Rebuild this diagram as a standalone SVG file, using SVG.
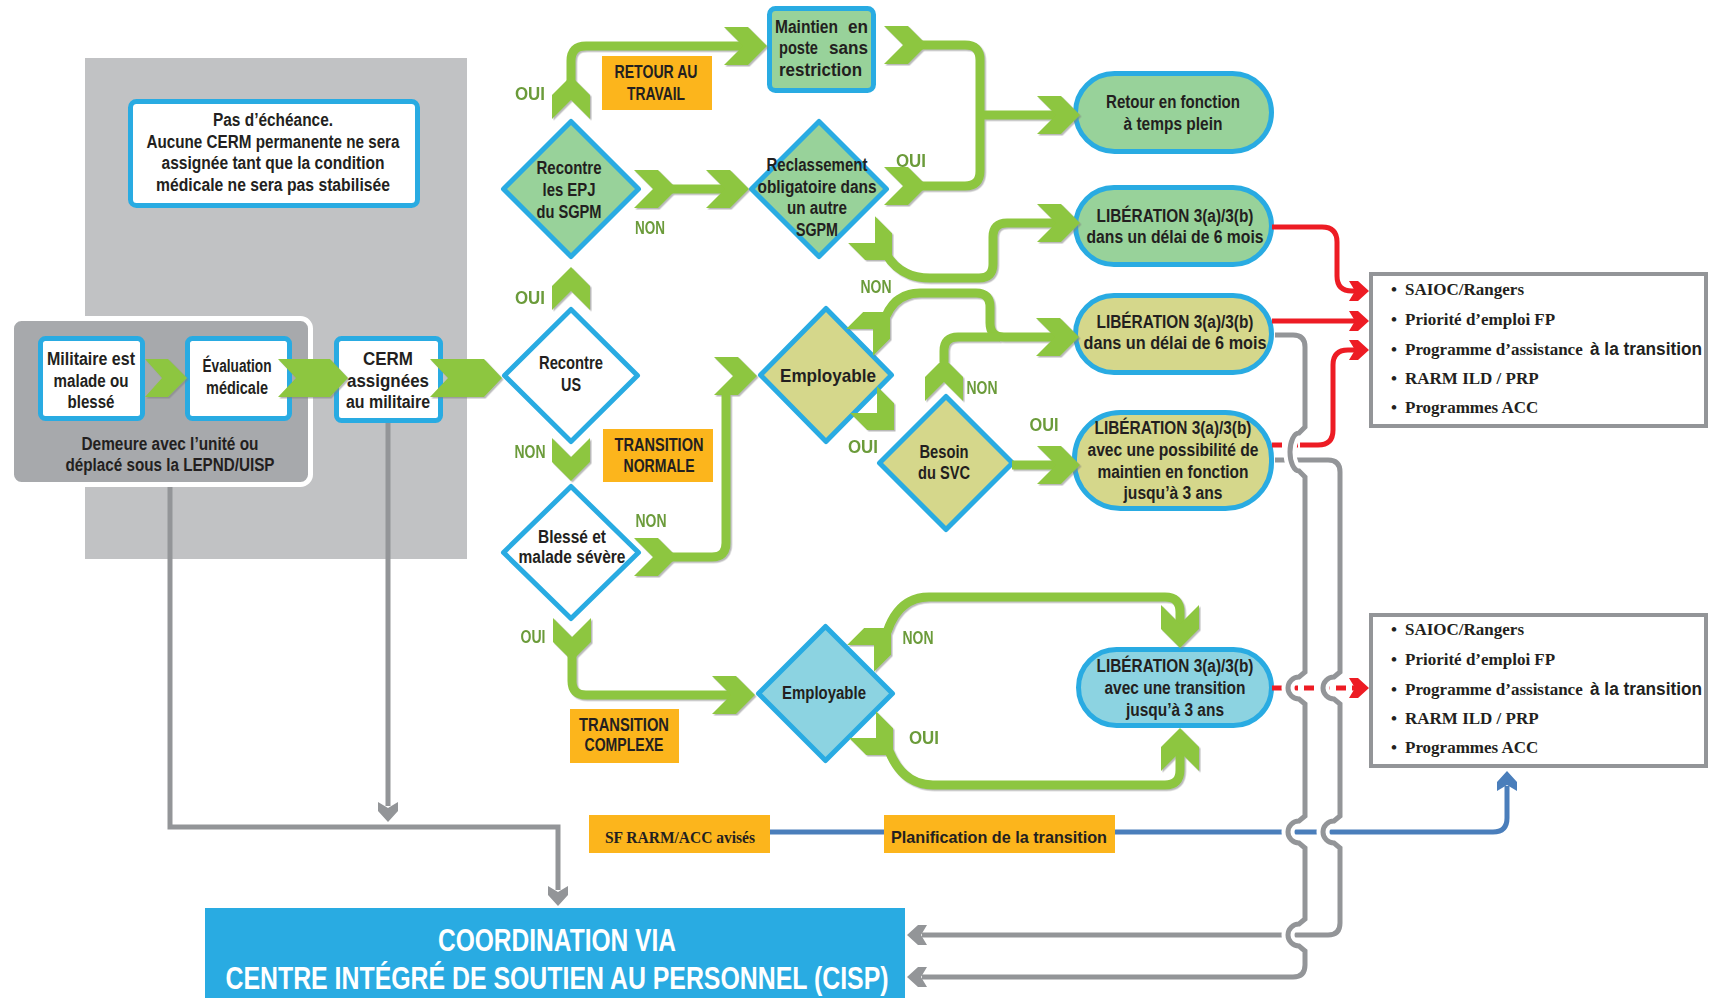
<svg xmlns="http://www.w3.org/2000/svg" width="1711" height="998" viewBox="0 0 1711 998">
<style>
.t{font-family:"Liberation Sans",Arial,sans-serif;font-weight:bold;font-size:17.5px;fill:#231f20;text-anchor:middle}
.s{text-anchor:start}
.e{text-anchor:end}
.lab{fill:#6b9b3a}
.sr{font-family:"Liberation Serif","Times New Roman",serif;font-weight:bold;font-size:17px;fill:#231f20}
.bx{fill:#fff;stroke:#29abe2;stroke-width:5}
.gf{fill:#98d29a;stroke:#29abe2;stroke-width:5;stroke-linejoin:round}
.yf{fill:#d5d78b;stroke:#29abe2;stroke-width:5;stroke-linejoin:round}
.bf{fill:#8cd3e1;stroke:#29abe2;stroke-width:5;stroke-linejoin:round}
.wf{fill:#fff;stroke:#29abe2;stroke-width:5;stroke-linejoin:round}
.or{fill:#fcb51c}
.gl{fill:none;stroke:#8dc63f;stroke-width:9;stroke-linejoin:round}
.gc{fill:#8dc63f}
.gr{fill:none;stroke:#939598;stroke-width:5}
.grf{fill:#939598}
.halo{fill:none;stroke:#fff;stroke-width:13}
.rd{fill:none;stroke:#ed1c24;stroke-width:5}
.rdf{fill:#ed1c24}
.bl{fill:none;stroke:#4a7ebb;stroke-width:5}
.blf{fill:#4a7ebb}
.lst{fill:#fff;stroke:#939598;stroke-width:4}
.cisp{font-family:"Liberation Sans",Arial,sans-serif;font-weight:bold;font-size:31px;fill:#fff;text-anchor:middle}
</style>
<defs>
<path id="cv" d="M0,0 L-19,-19 L-43,-19 L-24,0 L-43,19 L-19,19 Z"/>
<path id="ah" d="M0,0 L-11,-10 L-20,-10 L-14,0 L-20,10 L-11,10 Z"/>
<filter id="sh" x="-5%" y="-5%" width="110%" height="110%">
<feDropShadow dx="1.5" dy="1.5" stdDeviation="0.6" flood-color="#808080" flood-opacity="0.55"/>
</filter>
</defs>
<rect width="1711" height="998" fill="#fff"/>

<g id="panel-fond">
<rect x="85" y="58" width="382" height="501" fill="#c1c2c4"/>
</g>

<g id="n-echeance">
<rect class="bx" x="130.5" y="101.5" width="287" height="104" rx="6"/>
<text class="t" x="273" y="126" textLength="120" lengthAdjust="spacingAndGlyphs">Pas d’échéance.</text>
<text class="t" x="273" y="148" textLength="253" lengthAdjust="spacingAndGlyphs">Aucune CERM permanente ne sera</text>
<text class="t" x="273" y="169" textLength="223" lengthAdjust="spacingAndGlyphs">assignée tant que la condition</text>
<text class="t" x="273" y="191" textLength="234" lengthAdjust="spacingAndGlyphs">médicale ne sera pas stabilisée</text>
</g>

<g id="n-unite">
<rect x="11.5" y="318.5" width="299" height="166" rx="10" fill="#a7a9ac" stroke="#fff" stroke-width="5"/>
<text class="t" x="170" y="450" textLength="177" lengthAdjust="spacingAndGlyphs">Demeure avec  l’unité  ou</text>
<text class="t" x="170" y="471" textLength="209" lengthAdjust="spacingAndGlyphs">déplacé  sous la LEPND/UISP</text>
</g>

<g id="n-militaire">
<rect class="bx" x="40.5" y="338.5" width="102" height="80" rx="5"/>
<text class="t" x="91" y="365" textLength="88" lengthAdjust="spacingAndGlyphs">Militaire est</text>
<text class="t" x="91" y="387" textLength="75" lengthAdjust="spacingAndGlyphs">malade  ou</text>
<text class="t" x="91" y="408" textLength="47" lengthAdjust="spacingAndGlyphs">blessé</text>
</g>

<g id="n-evaluation">
<rect class="bx" x="187.5" y="338.5" width="102" height="80" rx="5"/>
<text class="t" x="237" y="372" textLength="69" lengthAdjust="spacingAndGlyphs">Évaluation</text>
<text class="t" x="237" y="394" textLength="62" lengthAdjust="spacingAndGlyphs">médicale</text>
</g>

<g id="n-cerm">
<rect class="bx" x="336.5" y="338.5" width="104" height="82" rx="5"/>
<text class="t" x="388" y="365" style="font-size:18px" textLength="50" lengthAdjust="spacingAndGlyphs">CERM</text>
<text class="t" x="388" y="387" style="font-size:18px" textLength="82" lengthAdjust="spacingAndGlyphs">assignées</text>
<text class="t" x="388" y="408" textLength="84" lengthAdjust="spacingAndGlyphs">au militaire</text>
</g>

<g id="n-epj">
<polygon class="gf" points="571,121.5 638.5,189 571,256.5 503.5,189"/>
<text class="t" x="569" y="174" textLength="65" lengthAdjust="spacingAndGlyphs">Recontre</text>
<text class="t" x="569" y="196" textLength="53" lengthAdjust="spacingAndGlyphs">les  EPJ</text>
<text class="t" x="569" y="218" textLength="65" lengthAdjust="spacingAndGlyphs">du SGPM</text>
</g>

<g id="n-retour-travail">
<rect class="or" x="602" y="56" width="110" height="54"/>
<text class="t" x="656" y="78" style="font-size:18px" textLength="83" lengthAdjust="spacingAndGlyphs">RETOUR AU</text>
<text class="t" x="656" y="100" style="font-size:18px" textLength="58" lengthAdjust="spacingAndGlyphs">TRAVAIL</text>
</g>

<g id="n-maintien">
<rect class="gf" x="769.5" y="8.5" width="104" height="82" rx="6"/>
<text class="t s" x="775" y="33" textLength="63" lengthAdjust="spacingAndGlyphs">Maintien</text>
<text class="t e" x="868" y="33" textLength="20" lengthAdjust="spacingAndGlyphs">en</text>
<text class="t s" x="779" y="54" textLength="39" lengthAdjust="spacingAndGlyphs">poste</text>
<text class="t e" x="868" y="54" textLength="39" lengthAdjust="spacingAndGlyphs">sans</text>
<text class="t s" x="779" y="76" textLength="83" lengthAdjust="spacingAndGlyphs">restriction</text>
</g>

<g id="n-reclassement">
<polygon class="gf" points="819,121.5 886.5,189 819,256.5 751.5,189"/>
<text class="t" x="817" y="171" textLength="101" lengthAdjust="spacingAndGlyphs">Reclassement</text>
<text class="t" x="817" y="193" textLength="119" lengthAdjust="spacingAndGlyphs">obligatoire  dans</text>
<text class="t" x="817" y="214" textLength="60" lengthAdjust="spacingAndGlyphs">un autre</text>
<text class="t" x="817" y="236" textLength="42" lengthAdjust="spacingAndGlyphs">SGPM</text>
</g>

<g id="n-retour-fonction">
<rect class="gf" x="1075.5" y="73.5" width="196" height="78" rx="39"/>
<text class="t" x="1173" y="108" textLength="134" lengthAdjust="spacingAndGlyphs">Retour en fonction</text>
<text class="t" x="1173" y="130" textLength="99" lengthAdjust="spacingAndGlyphs">à temps plein</text>
</g>

<g id="n-liberation-1">
<rect class="gf" x="1075.5" y="187.5" width="196" height="77" rx="38.5"/>
<text class="t" x="1175" y="222" textLength="157" lengthAdjust="spacingAndGlyphs">LIBÉRATION 3(a)/3(b)</text>
<text class="t" x="1175" y="243" textLength="177" lengthAdjust="spacingAndGlyphs">dans un délai  de 6 mois</text>
</g>

<g id="n-us">
<polygon class="wf" points="571,309.5 637.5,375.5 571,441.5 504.5,375.5"/>
<text class="t" x="571" y="369" textLength="64" lengthAdjust="spacingAndGlyphs">Recontre</text>
<text class="t" x="571" y="391" textLength="20" lengthAdjust="spacingAndGlyphs">US</text>
</g>

<g id="n-transition-normale">
<rect class="or" x="603" y="429" width="110" height="53"/>
<text class="t" x="659" y="451" style="font-size:18px" textLength="89" lengthAdjust="spacingAndGlyphs">TRANSITION</text>
<text class="t" x="659" y="472" style="font-size:18px" textLength="71" lengthAdjust="spacingAndGlyphs">NORMALE</text>
</g>

<g id="n-blesse">
<polygon class="wf" points="571,486.5 638.5,552.5 571,618.5 503.5,552.5"/>
<text class="t" x="572" y="543" textLength="68" lengthAdjust="spacingAndGlyphs">Blessé et</text>
<text class="t" x="572" y="563" textLength="107" lengthAdjust="spacingAndGlyphs">malade sévère</text>
</g>

<g id="n-employable-1">
<polygon class="yf" points="826,308.5 891.5,375 826,441.5 760.5,375"/>
<text class="t" x="828" y="382" style="font-size:19px" textLength="96" lengthAdjust="spacingAndGlyphs">Employable</text>
</g>

<g id="n-besoin-svc">
<polygon class="yf" points="946,396.5 1012.5,463 946,529.5 879.5,463"/>
<text class="t" x="944" y="458" textLength="49" lengthAdjust="spacingAndGlyphs">Besoin</text>
<text class="t" x="944" y="479" textLength="52" lengthAdjust="spacingAndGlyphs">du SVC</text>
</g>

<g id="n-liberation-2">
<rect class="yf" x="1075.5" y="295.5" width="196" height="77" rx="38.5"/>
<text class="t" x="1175" y="328" textLength="157" lengthAdjust="spacingAndGlyphs">LIBÉRATION 3(a)/3(b)</text>
<text class="t" x="1175" y="349" textLength="183" lengthAdjust="spacingAndGlyphs">dans un délai  de 6 mois</text>
</g>

<g id="n-liberation-3">
<rect class="yf" x="1074.5" y="412.5" width="197" height="96" rx="46"/>
<text class="t" x="1173" y="434" textLength="157" lengthAdjust="spacingAndGlyphs">LIBÉRATION 3(a)/3(b)</text>
<text class="t" x="1173" y="456" textLength="171" lengthAdjust="spacingAndGlyphs">avec une possibilité de</text>
<text class="t" x="1173" y="478" textLength="151" lengthAdjust="spacingAndGlyphs">maintien en fonction</text>
<text class="t" x="1173" y="499" textLength="99" lengthAdjust="spacingAndGlyphs">jusqu’à 3 ans</text>
</g>

<g id="n-transition-complexe">
<rect class="or" x="570" y="709" width="109" height="54"/>
<text class="t" x="624" y="731" style="font-size:18px" textLength="90" lengthAdjust="spacingAndGlyphs">TRANSITION</text>
<text class="t" x="624" y="751" style="font-size:18px" textLength="79" lengthAdjust="spacingAndGlyphs">COMPLEXE</text>
</g>

<g id="n-employable-2">
<polygon class="bf" points="825.5,626.5 892.5,693.5 825.5,760.5 758.5,693.5"/>
<text class="t" x="824" y="699" textLength="84" lengthAdjust="spacingAndGlyphs">Employable</text>
</g>

<g id="n-liberation-4">
<rect class="bf" x="1078.5" y="649.5" width="193" height="76" rx="38"/>
<text class="t" x="1175" y="672" textLength="157" lengthAdjust="spacingAndGlyphs">LIBÉRATION 3(a)/3(b)</text>
<text class="t" x="1175" y="694" textLength="141" lengthAdjust="spacingAndGlyphs">avec une transition</text>
<text class="t" x="1175" y="716" textLength="98" lengthAdjust="spacingAndGlyphs">jusqu’à 3 ans</text>
</g>

<g id="n-programmes-1">
<rect class="lst" x="1371" y="274" width="335" height="152"/>
<text class="sr" x="1391" y="295">•</text><text class="sr" x="1405" y="295">SAIOC/Rangers</text>
<text class="sr" x="1391" y="325">•</text><text class="sr" x="1405" y="325">Priorité d’emploi  FP</text>
<text class="sr" x="1391" y="355">•</text><text class="sr" x="1405" y="355">Programme d’assistance</text>
<text class="t s" x="1590" y="355" textLength="112" lengthAdjust="spacingAndGlyphs">à la transition</text>
<text class="sr" x="1391" y="384">•</text><text class="sr" x="1405" y="384">RARM  ILD / PRP</text>
<text class="sr" x="1391" y="413">•</text><text class="sr" x="1405" y="413">Programmes  ACC</text>
</g>

<g id="n-programmes-2">
<rect class="lst" x="1371" y="615" width="335" height="151"/>
<text class="sr" x="1391" y="635">•</text><text class="sr" x="1405" y="635">SAIOC/Rangers</text>
<text class="sr" x="1391" y="665">•</text><text class="sr" x="1405" y="665">Priorité d’emploi  FP</text>
<text class="sr" x="1391" y="695">•</text><text class="sr" x="1405" y="695">Programme d’assistance</text>
<text class="t s" x="1590" y="695" textLength="112" lengthAdjust="spacingAndGlyphs">à la transition</text>
<text class="sr" x="1391" y="724">•</text><text class="sr" x="1405" y="724">RARM  ILD / PRP</text>
<text class="sr" x="1391" y="753">•</text><text class="sr" x="1405" y="753">Programmes  ACC</text>
</g>

<g id="n-sf-rarm">
<rect class="or" x="589" y="815" width="181" height="38"/>
<text class="sr" x="680" y="843" style="font-size:16px;text-anchor:middle" textLength="150" lengthAdjust="spacingAndGlyphs">SF RARM/ACC avisés</text>
</g>

<g id="n-planification">
<rect class="or" x="884" y="815" width="231" height="38"/>
<text class="t" x="999" y="843" style="font-size:16.5px" textLength="216" lengthAdjust="spacingAndGlyphs">Planification de la transition</text>
</g>

<g id="n-cisp">
<rect x="205" y="908" width="700" height="90" fill="#29abe2"/>
<text class="cisp" x="557" y="951" textLength="238" lengthAdjust="spacingAndGlyphs">COORDINATION VIA</text>
<text class="cisp" x="557" y="989" textLength="663" lengthAdjust="spacingAndGlyphs">CENTRE INTÉGRÉ DE SOUTIEN  AU PERSONNEL (CISP)</text>
</g>

<g id="connecteurs">
<g id="c-gris-gauche">
<path class="gr" d="M170,487 V827 H558 V890"/>
<use href="#ah" class="grf" transform="translate(558,906) rotate(90)"/>
<path class="gr" d="M388,423 V806"/>
<use href="#ah" class="grf" transform="translate(388,822) rotate(90)"/>
</g>
<g id="c-rouge">
<path class="rd" d="M1272,227 H1322 Q1337,227 1337,242 V276 Q1337,291 1352,291 H1356"/>
<use href="#ah" class="rdf" transform="translate(1369,291)"/>
<path class="rd" d="M1272,321 H1356"/>
<use href="#ah" class="rdf" transform="translate(1369,321)"/>
<path class="rd" d="M1272,445 H1300" stroke-dasharray="10 6"/>
<path class="rd" d="M1300,445 H1318 Q1333,445 1333,430 V365 Q1333,350 1348,350 H1356"/>
<use href="#ah" class="rdf" transform="translate(1369,350)"/>
<path class="rd" d="M1272,688 H1356" stroke-dasharray="10 6"/>
<use href="#ah" class="rdf" transform="translate(1369,688)"/>
</g>
<g id="c-bleu">
<path class="bl" d="M770,832 H884"/>
<path class="bl" d="M1115,832 H1493 Q1507,832 1507,818 V786"/>
<use href="#ah" class="blf" transform="translate(1507,771) rotate(-90)"/>
</g>
<g id="c-gris-droite">
<path class="halo" d="M1340,672 L1334,677 A11,11 0 0 0 1334,699 L1340,704"/>
<path class="halo" d="M1340,816 L1334,821 A11,11 0 0 0 1334,843 L1340,848"/>
<path class="gr" d="M1275,460 H1328 Q1340,460 1340,472 V672 L1334,677 A11,11 0 0 0 1334,699 L1340,704 V816 L1334,821 A11,11 0 0 0 1334,843 L1340,848 V923 Q1340,935 1328,935 H922"/>
<use href="#ah" class="grf" transform="translate(907,935) rotate(180)"/>
<path class="halo" d="M1305,427 L1299,433 A9,19 0 0 0 1299,471 L1305,477"/>
<path class="halo" d="M1305,672 L1299,677 A11,11 0 0 0 1299,699 L1305,704"/>
<path class="halo" d="M1305,816 L1299,821 A11,11 0 0 0 1299,843 L1305,848"/>
<path class="halo" d="M1305,919 L1299,924 A11,11 0 0 0 1299,946 L1305,951"/>
<path class="gr" d="M1275,335 H1293 Q1305,335 1305,347 V427 L1299,433 A9,19 0 0 0 1299,471 L1305,477 V672 L1299,677 A11,11 0 0 0 1299,699 L1305,704 V816 L1299,821 A11,11 0 0 0 1299,843 L1305,848 V919 L1299,924 A11,11 0 0 0 1299,946 L1305,951 V965 Q1305,977 1293,977 H922"/>
<use href="#ah" class="grf" transform="translate(907,977) rotate(180)"/>
</g>
<g id="c-vert" filter="url(#sh)">
<polygon class="gc" points="145,359 168,359 187,378 168,397 145,397 162,378"/>
<polygon class="gc" points="278,359 330,359 348,378 330,397 278,397 296,378"/>
<polygon class="gc" points="430,359 484,359 502,378 484,397 430,397 448,378"/>
<path class="gl" d="M571,82 V61 Q571,46 586,46 H745"/>
<path class="gl" d="M672,189 H726"/>
<path class="gl" d="M922,45 H965 Q980,45 980,60 V171 Q980,186 965,186 H922 M980,115 H1058"/>
<path class="gl" d="M886,254 Q900,278 930,278 H979 Q993,278 993,264 V237 Q993,223 1007,223 H1058"/>
<path class="gl" d="M886,316 Q896,293 920,293 H976 Q990,293 990,307 V323 Q990,337 1004,337 H1057"/>
<path class="gl" d="M944,362 V351 Q944,337 958,337 H1000"/>
<path class="gl" d="M1012,465 H1058"/>
<path class="gl" d="M672,557 H712 Q726,557 726,543 V390"/>
<path class="gl" d="M572,655 V681 Q572,695 586,695 H733"/>
<path class="gl" d="M887,632 Q899,597 929,597 H1165 Q1180,597 1180,612 V626"/>
<path class="gl" d="M889,751 Q903,785 933,785 H1165 Q1180,785 1180,770 V750"/>
<use href="#cv" class="gc" transform="translate(571,267) rotate(-90)"/>
<use href="#cv" class="gc" transform="translate(571,76) rotate(-90)"/>
<use href="#cv" class="gc" transform="translate(767,46)"/>
<use href="#cv" class="gc" transform="translate(677,189)"/>
<use href="#cv" class="gc" transform="translate(749,189)"/>
<use href="#cv" class="gc" transform="translate(927,186)"/>
<use href="#cv" class="gc" transform="translate(927,45)"/>
<use href="#cv" class="gc" transform="translate(1080,115)"/>
<use href="#cv" class="gc" transform="translate(892,260) rotate(45)"/>
<use href="#cv" class="gc" transform="translate(1080,223)"/>
<use href="#cv" class="gc" transform="translate(890,312) rotate(-45)"/>
<use href="#cv" class="gc" transform="translate(1079,337)"/>
<use href="#cv" class="gc" transform="translate(944,358) rotate(-90)"/>
<use href="#cv" class="gc" transform="translate(894,430) rotate(45)"/>
<use href="#cv" class="gc" transform="translate(1080,465)"/>
<use href="#cv" class="gc" transform="translate(571,481) rotate(90)"/>
<use href="#cv" class="gc" transform="translate(677,557)"/>
<use href="#cv" class="gc" transform="translate(757,376)"/>
<use href="#cv" class="gc" transform="translate(572,661) rotate(90)"/>
<use href="#cv" class="gc" transform="translate(755,695)"/>
<use href="#cv" class="gc" transform="translate(891,628) rotate(-45)"/>
<use href="#cv" class="gc" transform="translate(1180,648) rotate(90)"/>
<use href="#cv" class="gc" transform="translate(893,755) rotate(45)"/>
<use href="#cv" class="gc" transform="translate(1180,728) rotate(-90)"/>
</g>
<g id="etiquettes">
<text class="t lab" x="530" y="100" textLength="30" lengthAdjust="spacingAndGlyphs">OUI</text>
<text class="t lab" x="650" y="234" textLength="30" lengthAdjust="spacingAndGlyphs">NON</text>
<text class="t lab" x="911" y="167" textLength="30" lengthAdjust="spacingAndGlyphs">OUI</text>
<text class="t lab" x="876" y="293" textLength="31" lengthAdjust="spacingAndGlyphs">NON</text>
<text class="t lab" x="530" y="304" textLength="30" lengthAdjust="spacingAndGlyphs">OUI</text>
<text class="t lab" x="530" y="458" textLength="31" lengthAdjust="spacingAndGlyphs">NON</text>
<text class="t lab" x="651" y="527" textLength="31" lengthAdjust="spacingAndGlyphs">NON</text>
<text class="t lab" x="533" y="643" textLength="25" lengthAdjust="spacingAndGlyphs">OUI</text>
<text class="t lab" x="863" y="453" textLength="30" lengthAdjust="spacingAndGlyphs">OUI</text>
<text class="t lab" x="982" y="394" textLength="31" lengthAdjust="spacingAndGlyphs">NON</text>
<text class="t lab" x="1044" y="431" textLength="29" lengthAdjust="spacingAndGlyphs">OUI</text>
<text class="t lab" x="918" y="644" textLength="31" lengthAdjust="spacingAndGlyphs">NON</text>
<text class="t lab" x="924" y="744" textLength="30" lengthAdjust="spacingAndGlyphs">OUI</text>
</g>
</g>
</svg>
